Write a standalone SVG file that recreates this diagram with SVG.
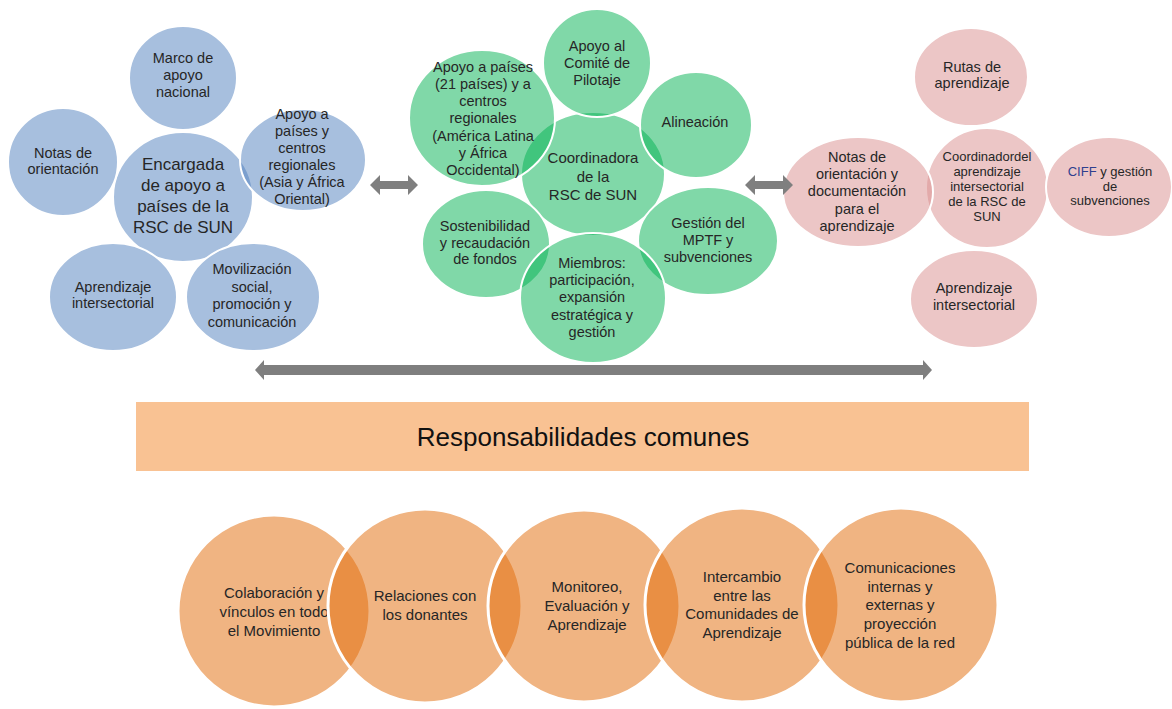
<svg xmlns="http://www.w3.org/2000/svg" width="1172" height="709" viewBox="0 0 1172 709">
<style>
text{font-family:"Liberation Sans",Arial,sans-serif;fill:#262626;text-anchor:middle;font-size:14.5px}
.b{fill:rgb(79,127,189);fill-opacity:.5;stroke:#fff;stroke-width:2}
.g{fill:rgb(1,177,81);fill-opacity:.5;stroke:#fff;stroke-width:2}
.p{fill:rgb(217,141,141);fill-opacity:.5;stroke:#fff;stroke-width:2}
.o{fill:rgb(225,105,5);fill-opacity:.5;stroke:#fff;stroke-width:3}
.s13{font-size:13px}
.s15{font-size:15px}
.arr{fill:#7f7f7f}
</style>
<rect width="1172" height="709" fill="#fff"/>

<!-- Left cluster (blue) -->
<g id="encargada">
<ellipse class="b" cx="183" cy="197" rx="70" ry="65"/>
<text font-size="17" style="font-size:17px"><tspan x="183" y="170">Encargada</tspan><tspan x="183" y="191">de apoyo a</tspan><tspan x="183" y="212">países de la</tspan><tspan x="183" y="233">RSC de SUN</tspan></text>
</g>
<g id="marco">
<ellipse class="b" cx="183" cy="78" rx="54" ry="52"/>
<text><tspan x="183" y="63">Marco de</tspan><tspan x="183" y="80">apoyo</tspan><tspan x="183" y="97">nacional</tspan></text>
</g>
<g id="notas-orientacion">
<ellipse class="b" cx="63" cy="162" rx="55" ry="54"/>
<text><tspan x="63" y="158">Notas de</tspan><tspan x="63" y="174">orientación</tspan></text>
</g>
<g id="apoyo-asia">
<ellipse class="b" cx="303" cy="160" rx="63" ry="51"/>
<text><tspan x="302" y="119">Apoyo a</tspan><tspan x="302" y="136">países y</tspan><tspan x="302" y="153">centros</tspan><tspan x="302" y="170">regionales</tspan><tspan x="302" y="187">(Asia y África</tspan><tspan x="302" y="204">Oriental)</tspan></text>
</g>
<g id="aprendizaje-left">
<ellipse class="b" cx="113" cy="297" rx="64" ry="54"/>
<text><tspan x="113" y="292">Aprendizaje</tspan><tspan x="113" y="308">intersectorial</tspan></text>
</g>
<g id="movilizacion">
<ellipse class="b" cx="253" cy="297" rx="67" ry="54"/>
<text><tspan x="252" y="274">Movilización</tspan><tspan x="252" y="291.5">social,</tspan><tspan x="252" y="309">promoción y</tspan><tspan x="252" y="326.5">comunicación</tspan></text>
</g>

<!-- Middle cluster (green) -->
<g id="coordinadora">
<ellipse class="g" cx="593" cy="174" rx="72" ry="62"/>
<text class="s15"><tspan x="593" y="163">Coordinadora</tspan><tspan x="593" y="182">de  la</tspan><tspan x="593" y="200">RSC de SUN</tspan></text>
</g>
<g id="comite">
<ellipse class="g" cx="597" cy="63" rx="54" ry="54"/>
<text><tspan x="597" y="51">Apoyo al</tspan><tspan x="597" y="68">Comité de</tspan><tspan x="597" y="85">Pilotaje</tspan></text>
</g>
<g id="apoyo-21">
<ellipse class="g" cx="482" cy="118" rx="73" ry="68"/>
<text><tspan x="483" y="72">Apoyo a países</tspan><tspan x="483" y="89">(21 países) y a</tspan><tspan x="483" y="106">centros</tspan><tspan x="483" y="123">regionales</tspan><tspan x="483" y="141">(América Latina</tspan><tspan x="483" y="158">y África</tspan><tspan x="483" y="175">Occidental)</tspan></text>
</g>
<g id="alineacion">
<ellipse class="g" cx="696" cy="125" rx="56" ry="53"/>
<text><tspan x="695" y="127">Alineación</tspan></text>
</g>
<g id="sostenibilidad">
<ellipse class="g" cx="486" cy="244" rx="64" ry="54"/>
<text><tspan x="485" y="231">Sostenibilidad</tspan><tspan x="485" y="248">y recaudación</tspan><tspan x="485" y="264">de fondos</tspan></text>
</g>
<g id="mptf">
<ellipse class="g" cx="708" cy="241" rx="70" ry="54"/>
<text><tspan x="708" y="228">Gestión del</tspan><tspan x="708" y="245">MPTF y</tspan><tspan x="708" y="262">subvenciones</tspan></text>
</g>
<g id="miembros">
<ellipse class="g" cx="593" cy="298" rx="73" ry="65"/>
<text><tspan x="592" y="268">Miembros:</tspan><tspan x="592" y="285">participación,</tspan><tspan x="592" y="302">expansión</tspan><tspan x="592" y="320">estratégica y</tspan><tspan x="592" y="337">gestión</tspan></text>
</g>

<!-- Right cluster (pink) -->
<g id="coordinador-aprendizaje">
<ellipse class="p" cx="987" cy="188" rx="61" ry="60"/>
<text class="s13"><tspan x="987" y="160.5">Coordinadordel</tspan><tspan x="987" y="175.7">aprendizaje</tspan><tspan x="987" y="191">intersectorial</tspan><tspan x="987" y="206">de la RSC de</tspan><tspan x="987" y="221">SUN</tspan></text>
</g>
<g id="rutas">
<ellipse class="p" cx="971" cy="77" rx="57" ry="49"/>
<text><tspan x="972" y="72">Rutas de</tspan><tspan x="972" y="88">aprendizaje</tspan></text>
</g>
<g id="notas-documentacion">
<ellipse class="p" cx="858" cy="192" rx="75" ry="55"/>
<text><tspan x="857" y="162">Notas de</tspan><tspan x="857" y="179">orientación y</tspan><tspan x="857" y="196">documentación</tspan><tspan x="857" y="214">para el</tspan><tspan x="857" y="231">aprendizaje</tspan></text>
</g>
<g id="ciff">
<ellipse class="p" cx="1109" cy="187" rx="63" ry="50"/>
<text class="s13"><tspan x="1110" y="175.5"><tspan style="fill:#2f3f8f">CIFF</tspan> y gestión</tspan><tspan x="1110" y="190.5">de</tspan><tspan x="1110" y="204.5">subvenciones</tspan></text>
</g>
<g id="aprendizaje-right">
<ellipse class="p" cx="974" cy="299" rx="64" ry="49"/>
<text><tspan x="974" y="293">Aprendizaje</tspan><tspan x="974" y="310">intersectorial</tspan></text>
</g>

<!-- Connectors -->
<g id="connectors">
<polygon class="arr" points="370,185 380,175 380,181 408,181 408,175 418,185 408,195 408,189 380,189 380,195"/>
<polygon class="arr" points="745,185 755,175 755,181 783,181 783,175 793,185 783,195 783,189 755,189 755,195"/>
<polygon class="arr" points="255,370 264,360 264,365 923,365 923,360 932,370 923,380 923,375 264,375 264,380"/>
</g>

<!-- Banner -->
<g id="responsabilidades">
<rect x="136" y="402" width="893" height="69" fill="#f9c293"/>
<text style="font-size:26px;fill:#111"><tspan x="583" y="446">Responsabilidades comunes</tspan></text>
</g>

<!-- Bottom circles -->
<g id="colaboracion">
<circle class="o" cx="274" cy="611" r="96"/>
<text class="s15"><tspan x="274" y="598">Colaboración y</tspan><tspan x="274" y="617">vínculos en todo</tspan><tspan x="274" y="636">el Movimiento</tspan></text>
</g>
<g id="donantes">
<circle class="o" cx="425" cy="606" r="97"/>
<text class="s15"><tspan x="425" y="601">Relaciones con</tspan><tspan x="425" y="620">los donantes</tspan></text>
</g>
<g id="monitoreo">
<circle class="o" cx="584" cy="606" r="96"/>
<text class="s15"><tspan x="587" y="592">Monitoreo,</tspan><tspan x="587" y="611">Evaluación y</tspan><tspan x="587" y="630">Aprendizaje</tspan></text>
</g>
<g id="intercambio">
<circle class="o" cx="742" cy="605" r="97"/>
<text class="s15"><tspan x="742" y="582">Intercambio</tspan><tspan x="742" y="601">entre  las</tspan><tspan x="742" y="619">Comunidades de</tspan><tspan x="742" y="638">Aprendizaje</tspan></text>
</g>
<g id="comunicaciones">
<circle class="o" cx="901" cy="605" r="97"/>
<text class="s15"><tspan x="900" y="573">Comunicaciones</tspan><tspan x="900" y="592">internas y</tspan><tspan x="900" y="610">externas y</tspan><tspan x="900" y="629">proyección</tspan><tspan x="900" y="648">pública de la red</tspan></text>
</g>
</svg>
